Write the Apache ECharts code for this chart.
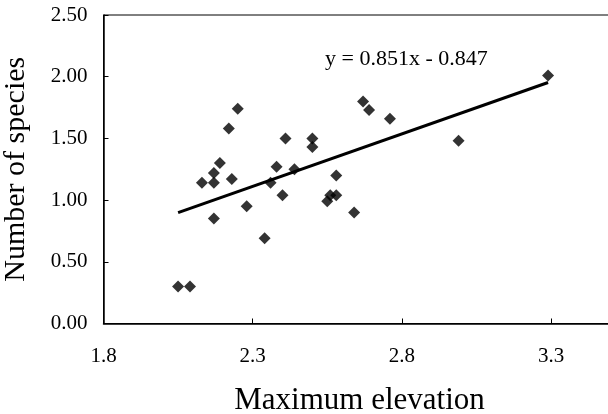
<!DOCTYPE html>
<html>
<head>
<meta charset="utf-8">
<script src="https://cdn.jsdelivr.net/npm/echarts@6/dist/echarts.min.js"></script>
<style>html,body{margin:0;padding:0;background:#fff;}#c{width:608px;height:414px;}</style>
</head>
<body>
<div id="c"></div>
<script>
// Data
var elevation = [2.05, 2.09, 2.13, 2.17, 2.17, 2.17, 2.19, 2.22, 2.23, 2.25, 2.28, 2.34, 2.36, 2.38, 2.40, 2.41, 2.44, 2.50, 2.50, 2.55, 2.56, 2.58, 2.58, 2.64, 2.67, 2.69, 2.76, 2.99, 3.29];
var species   = [0.30, 0.30, 1.14, 0.85, 1.14, 1.22, 1.30, 1.58, 1.17, 1.74, 0.95, 0.69, 1.14, 1.27, 1.04, 1.50, 1.25, 1.50, 1.43, 0.99, 1.04, 1.20, 1.04, 0.90, 1.80, 1.73, 1.66, 1.48, 2.01];
var trendX = [2.05, 3.29];
var trendY = [0.898, 1.953];
var xTicks = [1.8, 2.3, 2.8, 3.3];
var equationText = 'y = 0.851x - 0.847';
var xTitle = 'Maximum elevation';
var yTitle = 'Number of species';

var points = elevation.map(function (x, i) { return [x, species[i]]; });
var trend = trendX.map(function (x, i) { return [x, trendY[i]]; });
var serif = '"Liberation Serif", "DejaVu Serif", serif';

var chart = echarts.init(document.getElementById('c'), null, { renderer: 'canvas' });
chart.setOption({
  animation: false,
  backgroundColor: '#fff',
  grid: { left: 103.5, top: 15, width: 512, height: 308.5, outerBoundsMode: 'none', containLabel: false,
          show: true, borderColor: '#000', borderWidth: 1, backgroundColor: 'transparent' },
  xAxis: {
    type: 'value', min: 1.8, max: 3.516,
    name: xTitle, nameLocation: 'middle', nameGap: 62,
    nameTextStyle: { fontFamily: serif, fontSize: 31, color: '#000' },
    axisLine: { show: true, lineStyle: { color: '#000', width: 1.5 } },
    axisTick: { show: true, inside: true, length: 5, customValues: xTicks, lineStyle: { color: '#000' } },
    axisLabel: { customValues: xTicks, margin: 22, fontFamily: serif, fontSize: 21, color: '#000', formatter: function (v) { return v.toFixed(1); } },
    splitLine: { show: false }
  },
  yAxis: {
    type: 'value', min: 0, max: 2.5, interval: 0.5,
    name: yTitle, nameLocation: 'middle', nameGap: 72, nameRotate: 90,
    nameTextStyle: { fontFamily: serif, fontSize: 30, color: '#000' },
    axisLine: { show: true, lineStyle: { color: '#000', width: 1.5 } },
    axisTick: { show: true, inside: true, length: 5, lineStyle: { color: '#000' } },
    axisLabel: { margin: 16, fontFamily: serif, fontSize: 21, color: '#000', formatter: function (v) { return v.toFixed(2); } },
    splitLine: { show: false }
  },
  graphic: [{
    type: 'text', left: 325, top: 48,
    style: { text: equationText, font: '22px ' + serif, fill: '#000' }
  }],
  series: [
    {
      type: 'scatter', data: points, symbol: 'diamond', symbolSize: 12,
      itemStyle: { color: '#000' }, z: 3
    },
    {
      type: 'line', data: trend, symbol: 'none',
      lineStyle: { color: '#000', width: 3 }, z: 2
    }
  ]
});
</script>
</body>
</html>
